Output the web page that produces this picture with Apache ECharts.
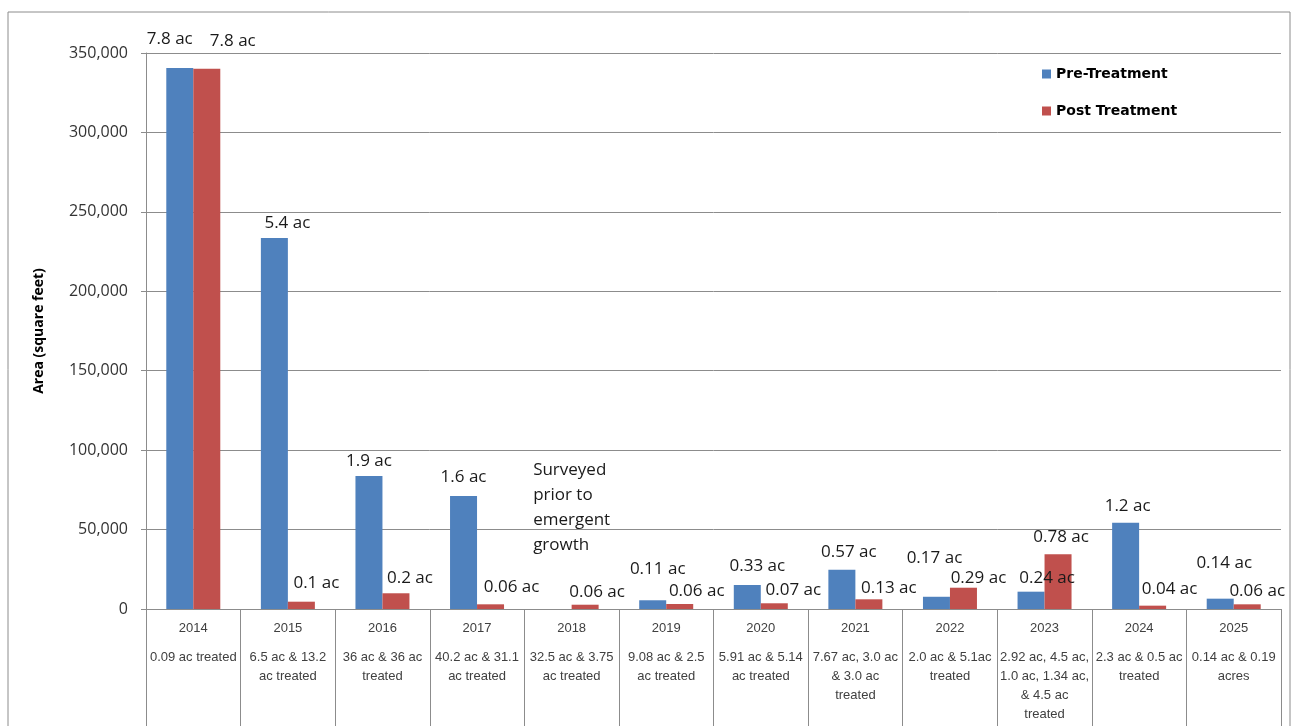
<!DOCTYPE html>
<html>
<head>
<meta charset="utf-8">
<title>Area pre / post treatment</title>
<script src="https://cdn.jsdelivr.net/npm/echarts@6/dist/echarts.min.js"></script>
<style>
  html, body { margin: 0; padding: 0; background: #fff; }
  #chart { width: 1293px; height: 726px; }
</style>
</head>
<body>
<div id="chart"></div>
<script>
// years and the treatment notes under each one
const years = ['2014', '2015', '2016', '2017', '2018', '2019', '2020', '2021', '2022', '2023', '2024', '2025']
const notes = [
  '0.09 ac treated',
  '6.5 ac & 13.2\nac treated',
  '36 ac & 36 ac\ntreated',
  '40.2 ac & 31.1\nac treated',
  '32.5 ac & 3.75\nac treated',
  '9.08 ac & 2.5\nac treated',
  '5.91 ac & 5.14\nac treated',
  '7.67 ac, 3.0 ac\n& 3.0 ac\ntreated',
  '2.0 ac & 5.1ac\ntreated',
  '2.92 ac, 4.5 ac,\n1.0 ac, 1.34 ac,\n& 4.5 ac\ntreated',
  '2.3 ac & 0.5 ac\ntreated',
  '0.14 ac & 0.19\nacres'
]

// area in square feet
const preArea = [340600, 233500, 83700, 71100, 0, 5500, 15100, 24700, 7700, 10900, 54300, 6500]
const postArea = [340100, 4600, 9900, 2950, 2700, 3150, 3600, 6100, 13400, 34400, 2100, 2950]

// text shown above the bars
const preText = ['7.8 ac', '5.4 ac', '1.9 ac', '1.6 ac', 'Surveyed\nprior to\nemergent\ngrowth',
  '0.11 ac', '0.33 ac', '0.57 ac', '0.17 ac', '0.24 ac', '1.2 ac', '0.14 ac']
const postText = ['7.8 ac', '0.1 ac', '0.2 ac', '0.06 ac', '0.06 ac', '0.06 ac',
  '0.07 ac', '0.13 ac', '0.29 ac', '0.78 ac', '0.04 ac', '0.06 ac']

const yTicks = { min: 0, max: 350000, step: 50000 }

const chart = echarts.init(document.getElementById('chart'))

// labels were dragged around by hand in the original, so nudge them a bit
const preNudge = [[-10, -15], [13, -1], [0, -1], [0, -5], [-25, -46], [5, -18],
  [10, -5], [7, -4], [-2, -25], [16, 0], [2, -3], [4, -22]]
const postNudge = [[26, -14], [15, -5], [14, -2], [21, -4], [12, 1], [17, 1],
  [19, 0], [20, 2], [15, 4], [3, -4], [17, -3], [10, 0]]

const labelFont = { fontFamily: 'Open Sans', fontSize: 17, color: '#1a1a1a' }

function buildData(values, texts, nudge) {
  return values.map((v, i) => {
    const item = {
      value: v,
      label: { formatter: texts[i], offset: nudge[i] }
    }
    if (texts[i].indexOf('\n') > -1) {
      item.label.align = 'left'
      item.label.lineHeight = 25
    }
    return item
  })
}

const option = {
  animation: false,
  graphic: [
    {
      type: 'rect',
      shape: { x: 8, y: 12, width: 1282, height: 730 },
      style: { fill: 'none', stroke: '#8c8c8c', lineWidth: 1 },
      silent: true
    }
  ],
  grid: { left: 146, right: 12, top: 53, bottom: 117 },
  legend: {
    orient: 'vertical',
    left: 1037,
    top: 62,
    itemWidth: 9,
    itemHeight: 9,
    itemGap: 23,
    icon: 'rect',
    textStyle: { fontFamily: 'DejaVu Sans', fontSize: 14, fontWeight: 'bold', color: '#000' },
    data: ['Pre-Treatment', 'Post Treatment']
  },
  xAxis: {
    type: 'category',
    data: years,
    axisLine: { lineStyle: { color: '#8c8c8c' } },
    axisTick: { show: true, interval: 0, length: 117, lineStyle: { color: '#8c8c8c' } },
    axisLabel: {
      interval: 0,
      margin: 0,
      formatter: (val, idx) => '{y|' + val + '}\n' + notes[idx].split('\n').map(s => '{d|' + s + '}').join('\n'),
      rich: {
        y: { fontFamily: 'Liberation Sans', fontSize: 13, color: '#404040', lineHeight: 39 },
        d: { fontFamily: 'Liberation Sans', fontSize: 13, color: '#404040', lineHeight: 19 }
      }
    }
  },
  yAxis: {
    type: 'value',
    min: yTicks.min,
    max: yTicks.max,
    interval: yTicks.step,
    name: 'Area (square feet)',
    nameLocation: 'middle',
    nameGap: 100,
    nameTextStyle: { fontFamily: 'Open Sans', fontSize: 14, fontWeight: 'bold', color: '#000' },
    axisLine: { show: true, lineStyle: { color: '#8c8c8c' } },
    axisTick: { show: true, length: 5, lineStyle: { color: '#8c8c8c' } },
    axisLabel: {
      margin: 18,
      fontFamily: 'Open Sans',
      fontSize: 16,
      color: '#333',
      formatter: v => v.toLocaleString('en-US')
    },
    splitLine: { lineStyle: { color: '#8c8c8c' } }
  },
  series: [
    {
      name: 'Pre-Treatment',
      type: 'bar',
      barWidth: 27,
      barGap: '0%',
      itemStyle: { color: '#4F81BD' },
      label: Object.assign({ show: true, position: 'top' }, labelFont),
      data: buildData(preArea, preText, preNudge)
    },
    {
      name: 'Post Treatment',
      type: 'bar',
      barWidth: 27,
      barGap: '0%',
      itemStyle: { color: '#C0504D' },
      label: Object.assign({ show: true, position: 'top' }, labelFont),
      data: buildData(postArea, postText, postNudge)
    }
  ]
}

chart.setOption(option)
</script>
</body>
</html>
